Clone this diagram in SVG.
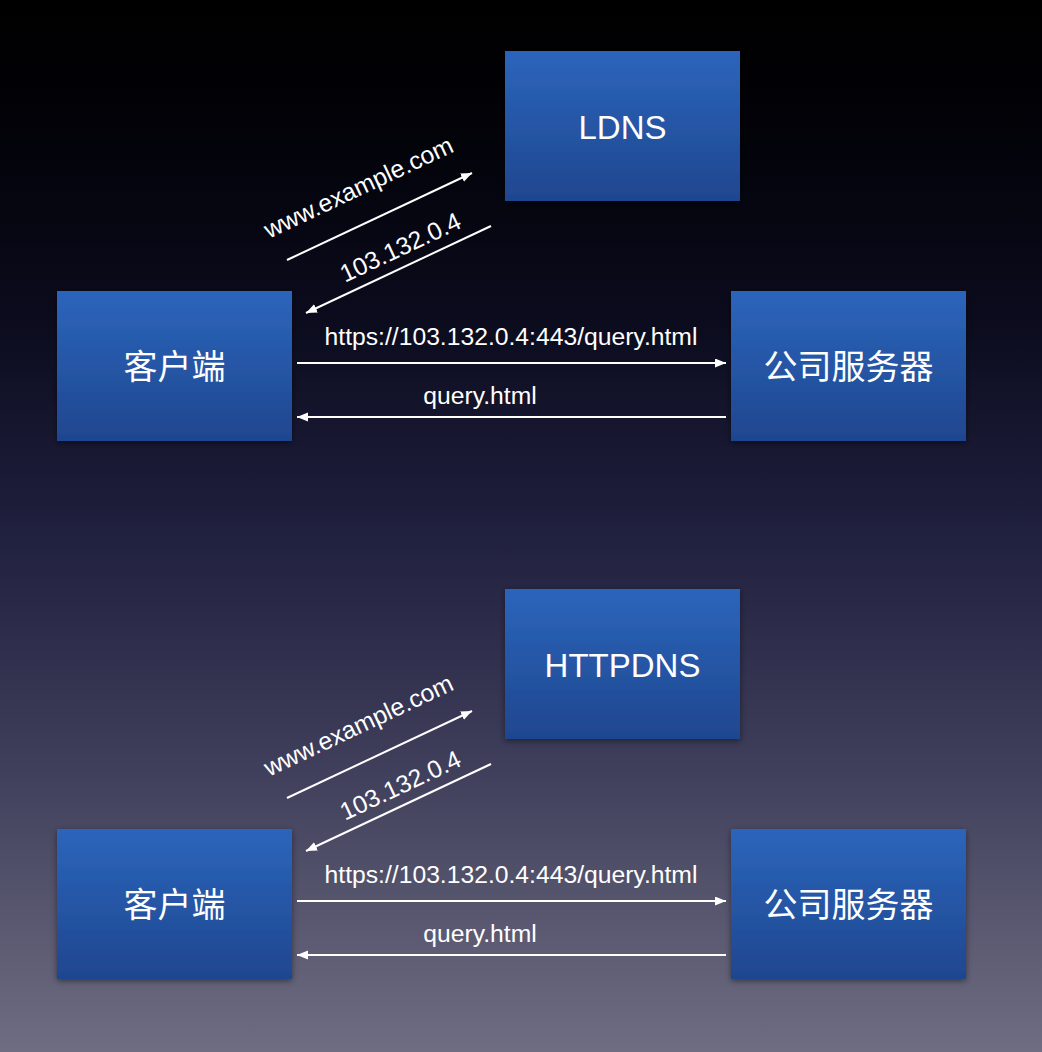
<svg xmlns="http://www.w3.org/2000/svg" width="1042" height="1052" viewBox="0 0 1042 1052">
  <defs>
    <linearGradient id="bg" x1="0" y1="0" x2="0" y2="1">
      <stop offset="0" stop-color="#000000"/>
      <stop offset="0.12" stop-color="#020208"/>
      <stop offset="0.3" stop-color="#0b0b1d"/>
      <stop offset="0.5" stop-color="#1f1f3e"/>
      <stop offset="0.7" stop-color="#3b3a57"/>
      <stop offset="1" stop-color="#6e6d82"/>
    </linearGradient>
    <linearGradient id="box" x1="0" y1="0" x2="0" y2="1">
      <stop offset="0" stop-color="#2c65bb"/>
      <stop offset="1" stop-color="#1f468f"/>
    </linearGradient>
    <filter id="shadow" x="-10%" y="-10%" width="120%" height="125%">
      <feDropShadow dx="0" dy="2" stdDeviation="3" flood-color="#000" flood-opacity="0.45"/>
    </filter>
    <marker id="arrow" markerUnits="userSpaceOnUse" markerWidth="12" markerHeight="10" refX="11" refY="4.5" orient="auto">
      <path d="M0,0 L11,4.5 L0,9 z" fill="#ffffff"/>
    </marker>
  </defs>
  <style>
    .node rect { fill: url(#box); filter: url(#shadow); }
    .en { font-family: "Liberation Sans", Arial, sans-serif; fill: #ffffff; }
    .cjk { font-family: "Liberation Sans", "Noto Sans CJK SC", sans-serif; fill: #ffffff; font-size: 34px; text-anchor: middle; }
    .title { font-size: 33px; text-anchor: middle; }
    .lbl { font-size: 24.7px; }
    .conn line { stroke: #ffffff; stroke-width: 2; marker-end: url(#arrow); }
  </style>
  <rect x="0" y="0" width="1042" height="1052" fill="url(#bg)"/>

  <!-- Top diagram -->
  <g id="ldns" class="node">
    <rect x="505" y="51" width="235" height="150"/>
    <text class="en title" x="622.5" y="139">LDNS</text>
  </g>
  <g id="client1" class="node">
    <rect x="57" y="291" width="235" height="150"/>
    <text class="cjk" x="174.5" y="379">客户端</text>
  </g>
  <g id="server1" class="node">
    <rect x="731" y="291" width="235" height="150"/>
    <text class="cjk" x="848.5" y="379">公司服务器</text>
  </g>

  <!-- Bottom diagram -->
  <g id="httpdns" class="node">
    <rect x="505" y="589" width="235" height="150"/>
    <text class="en title" x="622.5" y="677">HTTPDNS</text>
  </g>
  <g id="client2" class="node">
    <rect x="57" y="829" width="235" height="150"/>
    <text class="cjk" x="174.5" y="917">客户端</text>
  </g>
  <g id="server2" class="node">
    <rect x="731" y="829" width="235" height="150"/>
    <text class="cjk" x="848.5" y="917">公司服务器</text>
  </g>

  <g id="connectors" class="conn">
    <line x1="287" y1="260" x2="472" y2="173"/>
    <line x1="491" y1="226" x2="306" y2="313"/>
    <line x1="297" y1="363" x2="726" y2="363"/>
    <line x1="726" y1="417" x2="297" y2="417"/>

    <line x1="287" y1="798" x2="472" y2="711"/>
    <line x1="491" y1="764" x2="306" y2="851"/>
    <line x1="297" y1="901" x2="726" y2="901"/>
    <line x1="726" y1="955" x2="297" y2="955"/>
  </g>

  <g id="labels">
    <text class="en lbl" text-anchor="middle" transform="translate(362,195) rotate(-25.2)">www.example.com</text>
    <text class="en lbl" text-anchor="middle" transform="translate(404,255) rotate(-25.2)">103.132.0.4</text>
    <text class="en lbl" text-anchor="middle" x="511" y="345">https://103.132.0.4:443/query.html</text>
    <text class="en lbl" text-anchor="middle" x="480" y="404">query.html</text>

    <text class="en lbl" text-anchor="middle" transform="translate(362,733) rotate(-25.2)">www.example.com</text>
    <text class="en lbl" text-anchor="middle" transform="translate(404,793) rotate(-25.2)">103.132.0.4</text>
    <text class="en lbl" text-anchor="middle" x="511" y="883">https://103.132.0.4:443/query.html</text>
    <text class="en lbl" text-anchor="middle" x="480" y="942">query.html</text>
  </g>
</svg>
